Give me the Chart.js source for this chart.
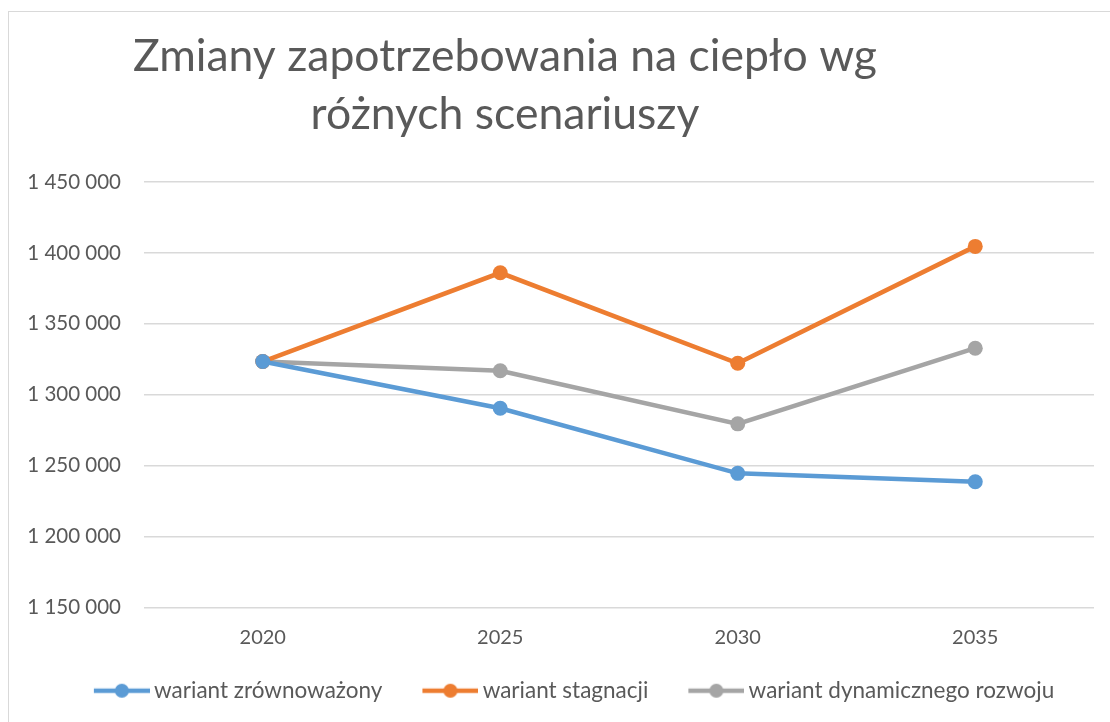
<!DOCTYPE html>
<html>
<head>
<meta charset="utf-8">
<script src="https://cdn.jsdelivr.net/npm/chart.js@4"></script>
<style>
  html, body { margin: 0; padding: 0; background: #fff; overflow: hidden; }
  #wrap { position: relative; width: 1110px; height: 722px; }
  #frame { position: absolute; left: 8px; top: 11px; width: 1110px; height: 722px;
           border: 1.5px solid #d9d9d9; box-sizing: border-box; pointer-events: none; }
</style>
</head>
<body>
<div id="wrap">
  <canvas id="myChart" width="1110" height="722"></canvas>
  <div id="frame"></div>
</div>
<script>
// chart data
var years = ['2020', '2025', '2030', '2035'];
var zrownowazony = [1323400, 1290500, 1244600, 1238700];
var stagnacji = [1323400, 1386000, 1322200, 1404600];
var dynamiczny = [1323400, 1316900, 1279500, 1332800];
var seriesNames = ['wariant zrównoważony', 'wariant stagnacji', 'wariant dynamicznego rozwoju'];
var seriesColors = ['#5B9BD5', '#ED7D31', '#A5A5A5'];
var titleLines = ['Zmiany zapotrzebowania na ciepło wg', 'różnych scenariuszy'];
var yMin = 1150000, yMax = 1450000, yStep = 50000;

var FONT = 'Lato, "Open Sans", sans-serif';
var TEXT = '#595959';

// legend swatch: line with a dot, like in excel
function swatch(color) {
  var c = document.createElement('canvas');
  c.width = 93; c.height = 16;
  var g = c.getContext('2d');
  g.strokeStyle = color;
  g.lineWidth = 4.5;
  g.beginPath();
  g.moveTo(37, 8); g.lineTo(93, 8);
  g.stroke();
  g.fillStyle = color;
  g.beginPath();
  g.arc(65, 8, 7, 0, Math.PI * 2);
  g.fill();
  return c;
}

// title drawn a bit left of center, as in the original
var titlePlugin = {
  id: 'leftTitle',
  afterDraw: function(chart) {
    var ctx = chart.ctx;
    ctx.save();
    ctx.fillStyle = TEXT;
    ctx.font = '44.5px ' + FONT;
    ctx.textAlign = 'center';
    ctx.textBaseline = 'alphabetic';
    ctx.fillText(titleLines[0], 505, 71);
    ctx.fillText(titleLines[1], 505, 129);
    ctx.restore();
  }
};

function spaced(v) {
  return String(Math.round(v)).replace(/\B(?=(\d{3})+(?!\d))/g, ' ');
}

var ctx = document.getElementById('myChart').getContext('2d');
var chart = new Chart(ctx, {
  type: 'line',
  data: {
    labels: years,
    datasets: [zrownowazony, stagnacji, dynamiczny].map(function(d, i) {
      return {
        label: seriesNames[i],
        data: d,
        borderColor: seriesColors[i],
        backgroundColor: seriesColors[i],
        pointBackgroundColor: seriesColors[i],
        pointBorderWidth: 0,
        pointRadius: 7.5,
        borderWidth: 4.5,
        tension: 0
      };
    })
  },
  options: {
    responsive: false,
    animation: false,
    layout: { padding: { top: 182, left: 24, right: 16, bottom: 10 } },
    plugins: {
      title: { display: false },
      tooltip: { enabled: false },
      legend: {
        position: 'bottom',
        labels: {
          usePointStyle: true,
          pointStyleWidth: 79,
          padding: 10,
          color: TEXT,
          font: { family: FONT, size: 22.5 },
          generateLabels: function(chart) {
            var items = Chart.defaults.plugins.legend.labels.generateLabels(chart);
            items.forEach(function(it, i) { it.pointStyle = swatch(seriesColors[i]); });
            return items;
          }
        }
      }
    },
    scales: {
      x: {
        offset: true,
        grid: { display: false },
        border: { display: false },
        ticks: { color: TEXT, font: { family: FONT, size: 20 }, padding: 10 },
        afterFit: function(scale) { scale.height = 62; }
      },
      y: {
        min: yMin,
        max: yMax,
        grid: { color: '#d9d9d9', lineWidth: 1.5, drawTicks: false },
        border: { display: false },
        ticks: { stepSize: yStep, color: TEXT, font: { family: FONT, size: 20.5 }, padding: 23,
                 callback: function(v) { return spaced(v); } },
        afterFit: function(scale) { scale.width = 120; }
      }
    }
  },
  plugins: [titlePlugin]
});
</script>
</body>
</html>
